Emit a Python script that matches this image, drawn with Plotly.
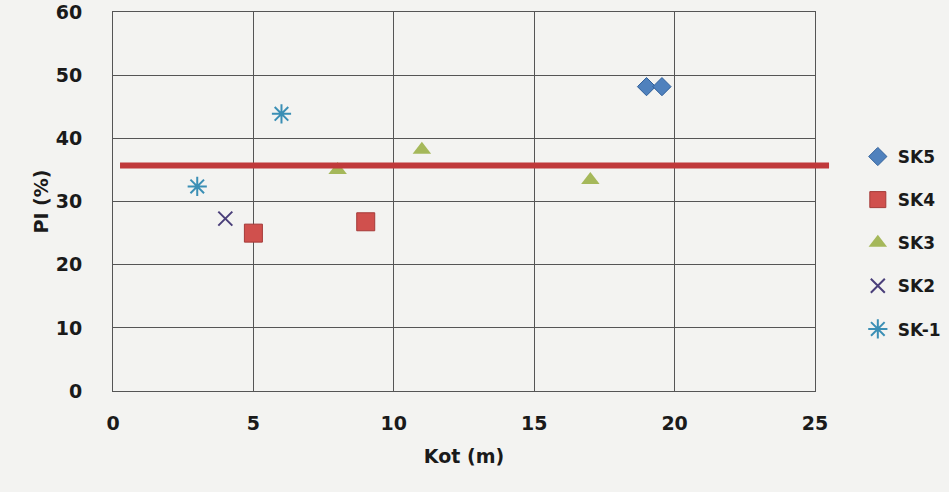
import plotly.graph_objects as go

# ---- data ----
sk5_x = [19.0, 19.55]
sk5_y = [48.2, 48.2]
sk4_x = [5.0, 9.0]
sk4_y = [25.0, 26.8]
sk3_x = [8.0, 11.0, 17.0]
sk3_y = [35.0, 38.2, 33.4]
sk2_x = [4.0]
sk2_y = [27.3]
sk1_x = [3.0, 6.0]
sk1_y = [32.4, 43.9]
limit_x = [0.25, 25.5]
limit_y = 35.7

x_range = [0, 25]
y_range = [0, 60.02]
x_ticks = [0, 5, 10, 15, 20, 25]
y_ticks = [0, 10, 20, 30, 40, 50, 60]

BG = "#f3f3f1"
FONT = "DejaVu Sans"

fig = go.Figure()

series = [
    ("SK5", sk5_x, sk5_y, dict(symbol="diamond", size=14, color="#4f81bd",
                              line=dict(color="#2f5f9a", width=1))),
    ("SK4", sk4_x, sk4_y, dict(symbol="square", size=18, color="#d0504d",
                              line=dict(color="#a53a38", width=1))),
    ("SK3", sk3_x, sk3_y, dict(symbol="triangle-up", size=16, color="#a5b85a",
                              line=dict(color="#a5b85a", width=0))),
    ("SK2", sk2_x, sk2_y, dict(symbol="x-thin", size=14, color="#4a3f7a",
                              line=dict(color="#4a3f7a", width=2))),
    ("SK-1", sk1_x, sk1_y, dict(symbol="asterisk", size=16, color="#3b8fb5",
                               line=dict(color="#3b8fb5", width=2))),
]
for name, xs, ys, mk in series:
    fig.add_trace(go.Scatter(x=xs, y=ys, mode="markers", name=name, marker=mk,
                             legendgroup=name, cliponaxis=False))

# horizontal limit line (extends slightly past the plot area, like the original)
fig.add_shape(type="line", xref="paper", yref="paper",
              x0=(limit_x[0] - x_range[0]) / (x_range[1] - x_range[0]),
              x1=(limit_x[1] - x_range[0]) / (x_range[1] - x_range[0]),
              y0=(limit_y - y_range[0]) / (y_range[1] - y_range[0]),
              y1=(limit_y - y_range[0]) / (y_range[1] - y_range[0]),
              line=dict(color="#c0393b", width=6), layer="above")

axis_common = dict(showgrid=True, gridcolor="#555555", gridwidth=1,
                   showline=True, linecolor="#555555", linewidth=1, mirror=True,
                   zeroline=False, ticks="", ticklabeloverflow="allow",
                   tickfont=dict(family=FONT, size=19, color="#1a1a1a", weight="bold"))

fig.update_layout(
    width=949, height=492,
    margin=dict(l=113, r=134, t=12, b=101, autoexpand=False),
    paper_bgcolor=BG, plot_bgcolor=BG,
    font=dict(family=FONT, color="#1a1a1a"),
    xaxis=dict(range=x_range, tickvals=x_ticks, ticklabelstandoff=15,
               title=dict(text="Kot (m)", font=dict(family=FONT, size=19, weight="bold"), standoff=16),
               **axis_common),
    yaxis=dict(range=y_range, tickvals=y_ticks, ticklabelstandoff=26,
               title=dict(text="PI (%)", font=dict(family=FONT, size=19, weight="bold"), standoff=2),
               **axis_common),
    legend=dict(x=1.061, y=0.665, xanchor="left", yanchor="top",
                font=dict(family=FONT, size=17, weight="bold", color="#1a1a1a"),
                bgcolor="rgba(0,0,0,0)", tracegroupgap=18, itemwidth=30),
    showlegend=True,
)

fig.write_html("out.html")
